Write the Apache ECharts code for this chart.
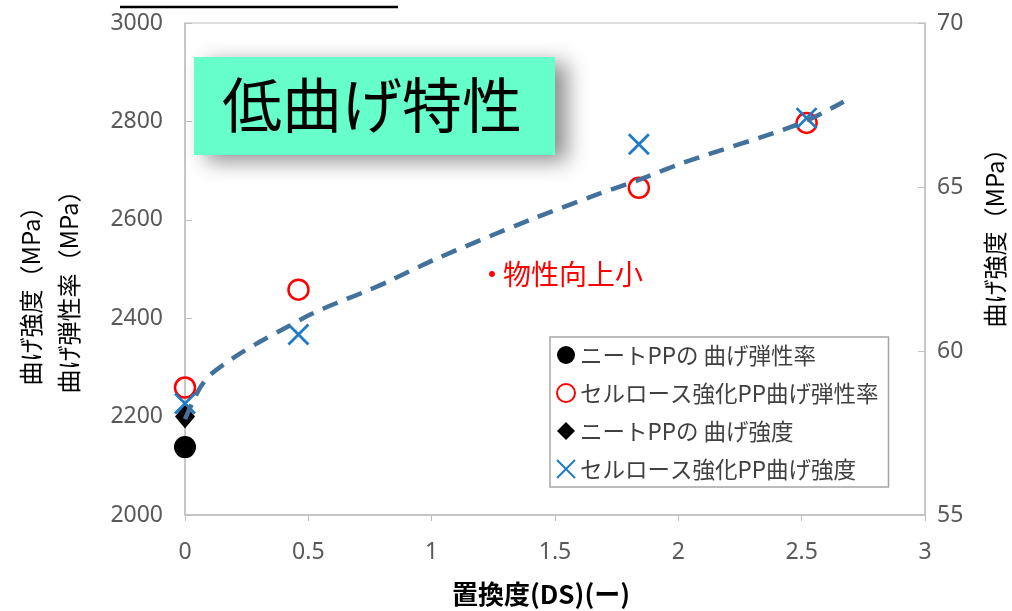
<!DOCTYPE html>
<html>
<head>
<meta charset="utf-8">
<script src="https://cdn.jsdelivr.net/npm/echarts@6/dist/echarts.min.js"></script>
<style>
  html, body { margin: 0; padding: 0; background: #fff; }
  #chart { width: 1012px; height: 611px; }
</style>
</head>
<body>
<div id="chart"></div>
<script>
// Degree of substitution (DS) of each sample
const dsValues = [0, 0.46, 1.84, 2.52];
// Flexural modulus (MPa), left axis
const neatModulus = [2138];
const celluloseModulus = [2259, 2458, 2665, 2797];
// Flexural strength (MPa), right axis
const neatStrength = [58.0];
const celluloseStrength = [58.4, 60.5, 66.3, 67.1];
// Trend curve through the modulus data (DS, MPa)
const trendDs = [0, 0.06, 0.11, 0.21, 0.30, 0.41, 0.51, 0.62, 0.74, 0.83, 1.02, 1.40, 1.68, 1.84, 2.02, 2.49, 2.67];
const trendModulus = [2195, 2258, 2288, 2324, 2351, 2381, 2408, 2432, 2456, 2476, 2521, 2600, 2653, 2681, 2716, 2795, 2840];

const seriesNames = [
  'ニートPPの 曲げ弾性率',
  'セルロース強化PP曲げ弾性率',
  'ニートPPの 曲げ強度',
  'セルロース強化PP曲げ強度'
];

const pairs = (xs, ys) => ys.map((y, i) => [xs[i], y]);

const JP = '"Noto Sans CJK JP", "Noto Sans", sans-serif';
const NUM = '"Noto Sans", "Liberation Sans", sans-serif';
const axisGray = '#bfbfbf';
const labelGray = '#595959';
const plain = v => String(v);

const chart = echarts.init(document.getElementById('chart'));

chart.setOption({
  animation: false,
  grid: {
    left: 185, right: 87, top: 23, bottom: 96,
    show: true, borderColor: axisGray, borderWidth: 1
  },
  xAxis: {
    type: 'value', min: 0, max: 3, interval: 0.5,
    axisLine: { show: true, lineStyle: { color: axisGray, width: 1.5 } },
    axisTick: { show: true, inside: false, length: 6, lineStyle: { color: axisGray } },
    splitLine: { show: false },
    axisLabel: { color: labelGray, fontSize: 23, fontFamily: NUM, margin: 26, formatter: plain }
  },
  yAxis: [
    {
      type: 'value', min: 2000, max: 3000, interval: 200, position: 'left',
      axisLine: { show: true, lineStyle: { color: axisGray, width: 1.5 } },
      axisTick: { show: true, inside: true, length: 7, lineStyle: { color: axisGray } },
      splitLine: { show: false },
      axisLabel: { color: labelGray, fontSize: 23, fontFamily: NUM, margin: 22, formatter: plain }
    },
    {
      type: 'value', min: 55, max: 70, interval: 5, position: 'right',
      axisLine: { show: true, lineStyle: { color: axisGray, width: 1.5 } },
      axisTick: { show: true, inside: true, length: 7, lineStyle: { color: axisGray } },
      splitLine: { show: false },
      axisLabel: { color: labelGray, fontSize: 23, fontFamily: NUM, margin: 12, formatter: plain }
    }
  ],
  legend: {
    orient: 'vertical',
    left: 550, top: 337,
    padding: [6, 10, 6, 6],
    itemWidth: 18, itemHeight: 18,
    itemGap: 14,
    borderColor: '#a6a6a6', borderWidth: 1.5,
    backgroundColor: '#fff',
    textStyle: { color: '#404040', fontSize: 22.5, fontFamily: JP, lineHeight: 24 },
    data: seriesNames
  },
  series: [
    {
      name: seriesNames[0], type: 'scatter', yAxisIndex: 0,
      symbol: 'circle', symbolSize: 22,
      itemStyle: { color: '#000', opacity: 1 },
      data: pairs(dsValues, neatModulus)
    },
    {
      name: seriesNames[1], type: 'scatter', yAxisIndex: 0,
      symbol: 'circle', symbolSize: 20,
      itemStyle: { color: 'rgba(255,255,255,0)', borderColor: '#ff0000', borderWidth: 2.5, opacity: 1 },
      data: pairs(dsValues, celluloseModulus)
    },
    {
      name: seriesNames[2], type: 'scatter', yAxisIndex: 1,
      symbol: 'diamond', symbolSize: [20, 24],
      itemStyle: { color: '#000', opacity: 1 },
      data: pairs(dsValues, neatStrength)
    },
    {
      name: seriesNames[3], type: 'scatter', yAxisIndex: 1,
      symbol: 'path://M0,0L10,10M10,0L0,10', symbolSize: 20,
      itemStyle: { color: 'rgba(0,0,0,0)', borderColor: '#1f7bc6', borderWidth: 2.8, opacity: 1 },
      data: pairs(dsValues, celluloseStrength)
    },
    {
      name: 'trend', type: 'line', yAxisIndex: 0,
      smooth: 0.3, showSymbol: false, symbol: 'none', z: 5,
      lineStyle: { color: '#41719c', width: 4.5, type: [16, 10], cap: 'butt' },
      data: pairs(trendDs, trendModulus)
    }
  ],
  graphic: [
    // underline of the heading above the plot
    { type: 'line', shape: { x1: 120, y1: 7, x2: 398, y2: 7 }, style: { stroke: '#000', lineWidth: 2.5 } },
    // highlighted caption
    {
      type: 'rect', shape: { x: 194, y: 57, width: 361, height: 98 },
      style: { fill: '#66ffcc', shadowBlur: 20, shadowOffsetX: 12, shadowOffsetY: 6, shadowColor: 'rgba(0,0,0,0.45)' },
      z: 10
    },
    {
      type: 'text', x: 372, y: 105, z: 11,
      style: { text: '低曲げ特性', fill: '#000', font: '60px ' + JP, align: 'center', verticalAlign: 'middle' }
    },
    {
      type: 'text', x: 492, y: 274, z: 11,
      style: { text: '・', fill: '#ff0000', font: '28px ' + JP, align: 'center', verticalAlign: 'middle' }
    },
    {
      type: 'text', x: 503, y: 274, z: 11,
      style: { text: '物性向上小', fill: '#ff0000', font: '28px ' + JP, align: 'left', verticalAlign: 'middle' }
    },
    // axis titles
    {
      type: 'text', x: 31, y: 290, rotation: Math.PI / 2,
      style: { text: '曲げ強度（MPa）', fill: '#000', font: '24px ' + JP, align: 'center', verticalAlign: 'middle' }
    },
    {
      type: 'text', x: 69, y: 286, rotation: Math.PI / 2,
      style: { text: '曲げ弾性率（MPa）', fill: '#000', font: '24px ' + JP, align: 'center', verticalAlign: 'middle' }
    },
    {
      type: 'text', x: 995, y: 232, rotation: Math.PI / 2,
      style: { text: '曲げ強度（MPa）', fill: '#000', font: '24px ' + JP, align: 'center', verticalAlign: 'middle' }
    },
    {
      type: 'text', x: 541, y: 594,
      style: { text: '置換度(DS)(ー)', fill: '#000', font: 'bold 26px ' + JP, align: 'center', verticalAlign: 'middle' }
    }
  ]
});
</script>
</body>
</html>
